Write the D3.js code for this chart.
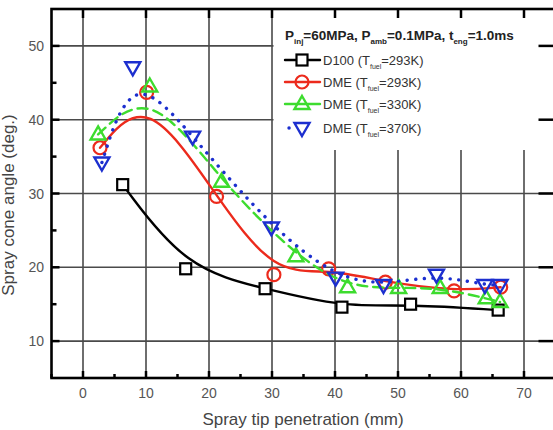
<!DOCTYPE html>
<html>
<head>
<meta charset="utf-8">
<script src="https://cdn.jsdelivr.net/npm/d3@7"></script>
<style>
 body { margin: 0; background: #fff; }
 svg text { font-family: "Liberation Sans", Arial, sans-serif; }
</style>
</head>
<body>
<svg id="chart" width="553" height="430"></svg>
<script>
 // values
 let d100X = [6.3, 16.3, 28.9, 41.1, 52.0, 65.9];
 let d100Y = [31.2, 19.8, 17.1, 14.6, 15.0, 14.2];

 let dme293X = [2.7, 10.1, 21.2, 30.3, 39.0, 48.0, 58.9, 66.3];
 let dme293Y = [36.2, 43.7, 29.6, 19.0, 19.8, 18.0, 16.8, 17.3];

 let dme330X = [2.4, 10.6, 22.0, 33.8, 42.0, 50.1, 56.7, 64.0, 66.2];
 let dme330Y = [38.0, 44.5, 31.6, 21.5, 17.3, 17.2, 17.2, 15.8, 15.3];

 let dme370X = [3.0, 7.9, 17.4, 29.9, 40.1, 47.7, 56.1, 63.8, 66.2];
 let dme370Y = [34.2, 47.1, 37.7, 25.4, 18.6, 17.6, 19.0, 17.6, 17.6];

 let xTicks = [0, 10, 20, 30, 40, 50, 60, 70];
 let yTicks = [10, 20, 30, 40, 50];
 let xMinor = [-5, 5, 15, 25, 35, 45, 55, 65, 75];
 let yMinor = [15, 25, 35, 45];

 let seriesNames = ["D100", "DME", "DME", "DME"];
 let seriesTemps = ["293K", "293K", "330K", "370K"];

 let svg = d3.select("svg#chart");
 let x = d3.scaleLinear().domain([-5, 75]).range([51.5, 555.5]);
 let y = d3.scaleLinear().domain([5, 55]).range([378, 9]);

 let gridColor = "#4a4a4a";

 // gridlines
 let grid = svg.append("g").attr("id", "grid");
 grid.selectAll("line.vg").data(xTicks).join("line")
     .attr("class", "vg")
     .attr("x1", d => x(d)).attr("x2", d => x(d))
     .attr("y1", y(5)).attr("y2", y(55))
     .attr("stroke", gridColor).attr("stroke-width", 1.6);
 grid.selectAll("line.hg").data(yTicks).join("line")
     .attr("class", "hg")
     .attr("x1", x(-5)).attr("x2", x(75))
     .attr("y1", d => y(d)).attr("y2", d => y(d))
     .attr("stroke", gridColor).attr("stroke-width", 1.6);

 // legend box hides grid in the upper right
 svg.append("rect")
     .attr("x", x(30) + 1.5).attr("y", y(55))
     .attr("width", 300).attr("height", 141)
     .attr("fill", "#fff");

 // ticks (inward)
 let ticks = svg.append("g").attr("id", "ticks").attr("stroke", "#000").attr("stroke-width", 2.5);
 ticks.selectAll("line.xb").data(xTicks).join("line").attr("class", "xb")
     .attr("x1", d => x(d)).attr("x2", d => x(d)).attr("y1", y(5)).attr("y2", y(5) - 7);
 ticks.selectAll("line.xbm").data(xMinor).join("line").attr("class", "xbm")
     .attr("x1", d => x(d)).attr("x2", d => x(d)).attr("y1", y(5)).attr("y2", y(5) - 4);
 ticks.selectAll("line.xt").data(xTicks).join("line").attr("class", "xt")
     .attr("x1", d => x(d)).attr("x2", d => x(d)).attr("y1", y(55)).attr("y2", y(55) + 9);
 ticks.selectAll("line.yl").data(yTicks).join("line").attr("class", "yl")
     .attr("x1", x(-5)).attr("x2", x(-5) + 8).attr("y1", d => y(d)).attr("y2", d => y(d));
 ticks.selectAll("line.ylm").data(yMinor).join("line").attr("class", "ylm")
     .attr("x1", x(-5)).attr("x2", x(-5) + 5).attr("y1", d => y(d)).attr("y2", d => y(d));
 ticks.selectAll("line.yr").data(yTicks).join("line").attr("class", "yr")
     .attr("x1", x(75)).attr("x2", x(75) - 17).attr("y1", d => y(d)).attr("y2", d => y(d));

 // frame
 svg.append("rect")
     .attr("x", x(-5)).attr("y", y(55))
     .attr("width", x(75) - x(-5)).attr("height", y(5) - y(55))
     .attr("fill", "none").attr("stroke", "#000").attr("stroke-width", 2.6);

 // tick labels
 svg.append("g").selectAll("text").data(xTicks).join("text")
     .attr("x", d => x(d)).attr("y", 398)
     .attr("text-anchor", "middle")
     .attr("font-size", 14).attr("fill", "#555")
     .text(d => d);
 svg.append("g").selectAll("text").data(yTicks).join("text")
     .attr("x", 44).attr("y", d => y(d) + 5)
     .attr("text-anchor", "end")
     .attr("font-size", 14).attr("fill", "#555")
     .text(d => d);

 // axis titles
 svg.append("text")
     .attr("x", 303).attr("y", 425)
     .attr("text-anchor", "middle")
     .attr("font-size", 17).attr("fill", "#444")
     .text("Spray tip penetration (mm)");
 svg.append("text")
     .attr("transform", `translate(14,${205}) rotate(-90)`)
     .attr("text-anchor", "middle")
     .attr("font-size", 17).attr("fill", "#444")
     .text("Spray cone angle (deg.)");

 // series
 let series = [
     {xs: d100X, ys: d100Y, color: "#000000", dash: null, shape: "square"},
     {xs: dme293X, ys: dme293Y, color: "#ec2a1c", dash: null, shape: "circle"},
     {xs: dme330X, ys: dme330Y, color: "#3ddc2e", dash: "10,6", shape: "up"},
     {xs: dme370X, ys: dme370Y, color: "#1c2fcf", dash: "0.1,8.5", shape: "down"}
 ];

 let line = d3.line().x(d => x(d[0])).y(d => y(d[1])).curve(d3.curveBasis);

 function marker(g, shape, color) {
     if (shape === "square") {
         g.append("rect").attr("x", -5.5).attr("y", -5.5).attr("width", 11).attr("height", 11)
          .attr("fill", "#fff").attr("stroke", color).attr("stroke-width", 2.2);
     } else if (shape === "circle") {
         g.append("circle").attr("r", 6.5)
          .attr("fill", "none").attr("stroke", color).attr("stroke-width", 2.2);
     } else if (shape === "up") {
         g.append("path").attr("d", "M0,-8L7.5,5L-7.5,5Z")
          .attr("fill", "none").attr("stroke", color).attr("stroke-width", 2.4);
     } else {
         g.append("path").attr("d", "M0,8L7.5,-5L-7.5,-5Z")
          .attr("fill", "none").attr("stroke", color).attr("stroke-width", 2.4);
     }
 }

 let plot = svg.append("g").attr("id", "series");
 series.forEach(s => {
     let pts = s.xs.map((v, i) => [v, s.ys[i]]);
     plot.append("path")
         .attr("d", line(pts))
         .attr("fill", "none")
         .attr("stroke", s.color)
         .attr("stroke-width", s.shape === "down" ? 3.4 : 2.4)
         .attr("stroke-linecap", "round")
         .attr("stroke-dasharray", s.dash);
     pts.forEach(p => {
         let g = plot.append("g").attr("transform", `translate(${x(p[0])},${y(p[1])})`);
         marker(g, s.shape, s.color);
     });
 });

 // legend
 let legend = svg.append("g").attr("id", "legend");
 let header = legend.append("text").attr("x", 285).attr("y", 40)
     .attr("font-size", 13.5).attr("font-weight", "bold").attr("fill", "#222");
 header.append("tspan").text("P");
 header.append("tspan").attr("font-size", 8).attr("dy", 4).text("inj");
 header.append("tspan").attr("dy", -4).text("=60MPa, P");
 header.append("tspan").attr("font-size", 8).attr("dy", 4).text("amb");
 header.append("tspan").attr("dy", -4).text("=0.1MPa, t");
 header.append("tspan").attr("font-size", 8).attr("dy", 4).text("eng");
 header.append("tspan").attr("dy", -4).text("=1.0ms");

 let rowY = [60, 82, 104, 128];
 series.forEach((s, i) => {
     let ly = rowY[i];
     legend.append("line")
         .attr("x1", s.shape === "down" ? 289 : 285).attr("x2", s.shape === "down" ? 289.1 : 320)
         .attr("y1", ly).attr("y2", ly)
         .attr("stroke", s.color).attr("stroke-width", s.shape === "down" ? 3.4 : 2.4)
         .attr("stroke-linecap", "round");
     let g = legend.append("g").attr("transform", `translate(302,${ly})`);
     marker(g, s.shape, s.color);
     let t = legend.append("text").attr("x", 323).attr("y", ly + 5)
         .attr("font-size", 13).attr("fill", "#333");
     t.append("tspan").text(seriesNames[i] + " (T");
     t.append("tspan").attr("font-size", 7).attr("dy", 4).text("fuel");
     t.append("tspan").attr("dy", -4).text("=" + seriesTemps[i] + ")");
 });
</script>
</body>
</html>
